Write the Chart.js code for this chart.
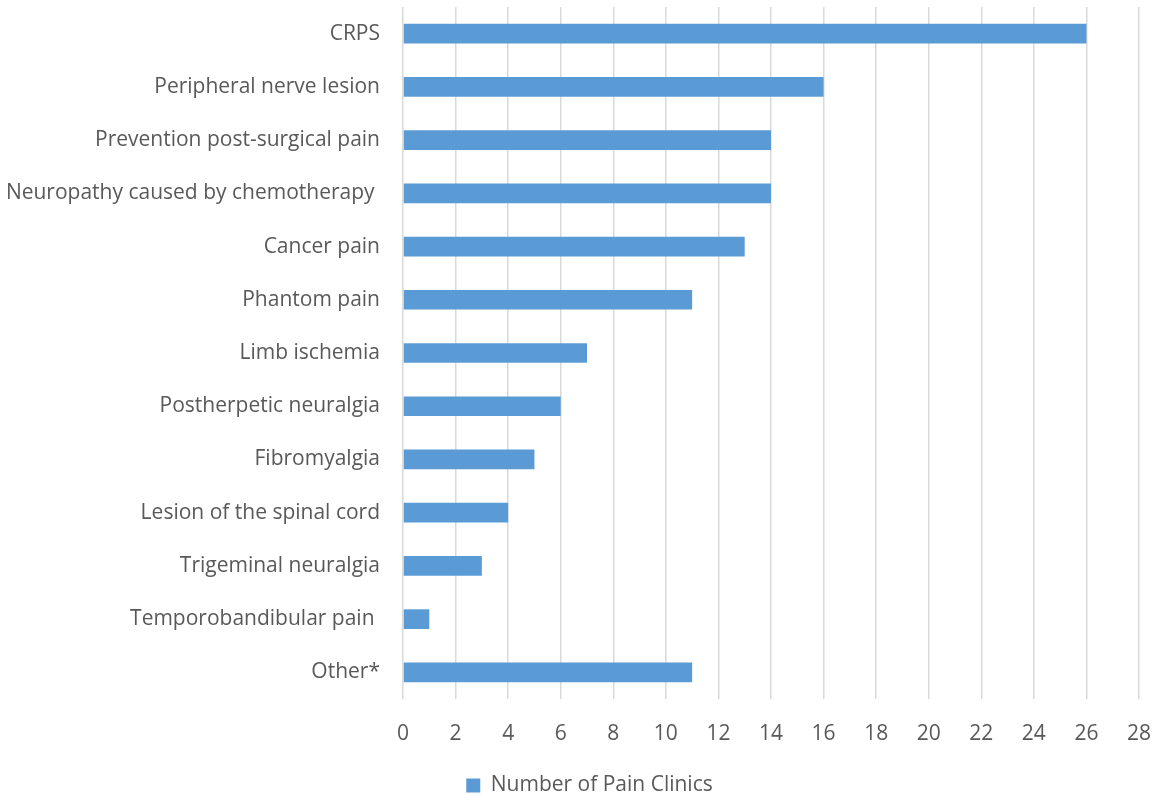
<!DOCTYPE html>
<html>
<head>
<meta charset="utf-8">
<script src="https://cdn.jsdelivr.net/npm/chart.js@4/dist/chart.umd.min.js"></script>
<style>
  html, body { margin: 0; padding: 0; background: #fff; overflow: hidden; }
  #wrap { width: 1153px; height: 795px; overflow: hidden; }
</style>
</head>
<body>
<div id="wrap"><canvas id="myChart" width="1153" height="806"></canvas></div>
<script>
// categories, top to bottom
var conditions = [
  "CRPS",
  "Peripheral nerve lesion",
  "Prevention post-surgical pain",
  "Neuropathy caused by chemotherapy ",
  "Cancer pain",
  "Phantom pain",
  "Limb ischemia",
  "Postherpetic neuralgia",
  "Fibromyalgia",
  "Lesion of the spinal cord",
  "Trigeminal neuralgia",
  "Temporobandibular pain ",
  "Other*"
];
var clinics = [26, 16, 14, 14, 13, 11, 7, 6, 5, 4, 3, 1, 11];
var seriesName = "Number of Pain Clinics";
var xMax = 28;
var xStep = 2;

var txtColor = '#595959';
var fontFam = "'Open Sans', 'Liberation Sans', sans-serif";

const ctx = document.getElementById('myChart').getContext('2d');
const myChart = new Chart(ctx, {
    type: 'bar',
    data: {
        labels: conditions,
        datasets: [{
            label: seriesName,
            data: clinics,
            backgroundColor: '#5b9bd5',
            borderWidth: 0,
            barPercentage: 0.37,
            categoryPercentage: 1
        }]
    },
    options: {
        indexAxis: 'y',
        responsive: false,
        animation: false,
        // left padding only nudges the legend right; the y box keeps the plot at x=403
        layout: { padding: { top: 7, right: 14, left: 40, bottom: 0 } },
        scales: {
            x: {
                min: 0,
                max: xMax,
                ticks: { stepSize: xStep, color: txtColor, font: { family: fontFam, size: 21 }, padding: 22 },
                grid: { color: '#d9d9d9', lineWidth: 1.5, drawTicks: false },
                border: { display: false },
                afterFit: function(scale) {
                    scale.height = 71;
                    scale.paddingLeft = 0;
                    scale.paddingRight = 0;
                }
            },
            y: {
                ticks: { color: txtColor, font: { family: fontFam, size: 21 }, padding: 23 },
                grid: { display: false, drawTicks: false },
                border: { display: false },
                afterFit: function(scale) {
                    scale.width = 363;
                    scale.paddingTop = 0;
                    scale.paddingBottom = 0;
                    // long label pokes out past the box, don't clip it
                    scale._computeLabelArea = function() { return null; };
                }
            }
        },
        plugins: {
            legend: {
                position: 'bottom',
                labels: {
                    color: txtColor,
                    font: { family: fontFam, size: 21 },
                    boxWidth: 14,
                    boxHeight: 14,
                    padding: 5
                }
            },
            tooltip: { enabled: false }
        }
    }
});
</script>
</body>
</html>
